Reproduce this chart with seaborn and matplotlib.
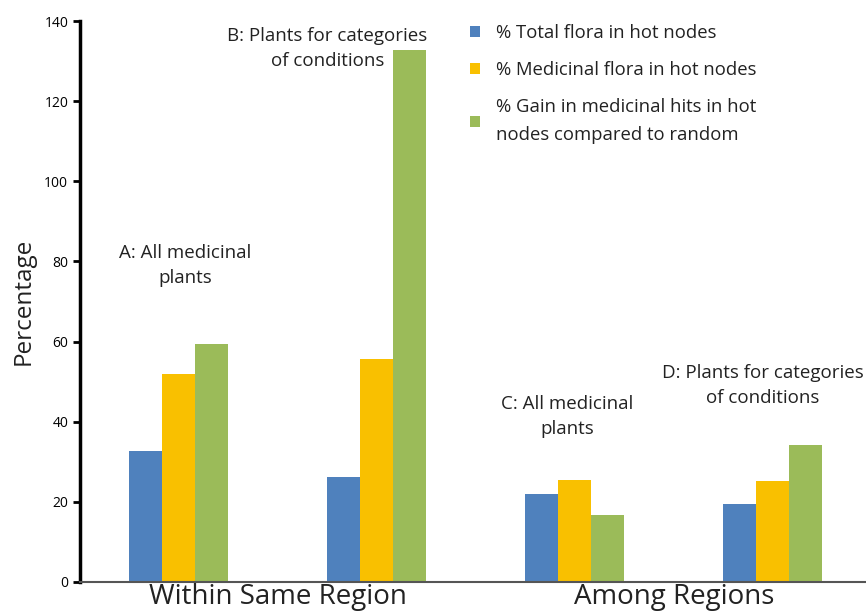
import matplotlib
matplotlib.use("Agg")
import matplotlib.pyplot as plt
import pandas as pd
import seaborn as sns

groups = ["A", "B", "C", "D"]
series = ["% Total flora in hot nodes",
          "% Medicinal flora in hot nodes",
          "% Gain in medicinal hits in hot\nnodes compared to random"]
total_flora = [32.7, 26.2, 21.9, 19.3]
medicinal_flora = [51.9, 55.7, 25.5, 25.2]
gain_hits = [59.4, 132.9, 16.6, 34.2]
region_labels = ["Within Same Region", "Among Regions"]
notes = ["A: All medicinal\nplants", "B: Plants for categories\nof conditions",
         "C: All medicinal\nplants", "D: Plants for categories\nof conditions"]

colors = ["#4F81BD", "#F9C000", "#9BBB59"]

df = pd.DataFrame({
    "group": groups * 3,
    "series": [s for s in series for _ in groups],
    "value": total_flora + medicinal_flora + gain_hits,
})

sns.set_style("white")
plt.rcParams["font.family"] = ["Open Sans", "DejaVu Sans"]

fig = plt.figure(figsize=(8.66, 6.16), dpi=100)
ax = fig.add_axes([80 / 866, 34.3 / 616, 786 / 866, 560.4 / 616])

sns.barplot(data=df, x="group", y="value", hue="series", palette=colors,
            width=0.5, gap=0, saturation=1, linewidth=0, ax=ax, legend=True)

ax.set_xlim(-0.5, 3.47)
ax.set_ylim(0, 140)
ax.set_yticks(range(0, 141, 20))
ax.tick_params(axis="y", labelsize=10, length=5, width=2, direction="out",
               colors="black", left=True)
ax.set_xticks([0.5, 2.5], region_labels, fontsize=20, color="#222222")
ax.tick_params(axis="x", length=0, pad=1)
ax.set_xlabel("")
ax.set_ylabel("Percentage", fontsize=17.5, color="#222222", labelpad=6)

sns.despine(ax=ax)
ax.spines["left"].set_linewidth(2.5)
ax.spines["left"].set_color("black")
ax.spines["bottom"].set_linewidth(1.5)
ax.spines["bottom"].set_color("#555555")

# annotation positions (x data, y data)
note_pos = [(0.03, 79), (0.75, 133.2), (1.96, 41.2), (2.95, 49)]
for txt, (x, y) in zip(notes, note_pos):
    ax.text(x, y, txt, ha="center", va="center", fontsize=13.5,
            color="#222222", linespacing=1.5, clip_on=False)

leg = ax.legend(loc="upper left", bbox_to_anchor=(470 / 866, 1 - 24 / 616),
                bbox_transform=fig.transFigure, frameon=False, fontsize=13.3,
                handlelength=0.55, handleheight=0.55, handletextpad=0.85,
                labelspacing=1.03, borderpad=0, borderaxespad=0)
for t in leg.get_texts():
    t.set_color("#222222")
    t.set_linespacing(1.68)

fig.savefig("out.png", dpi=100)
